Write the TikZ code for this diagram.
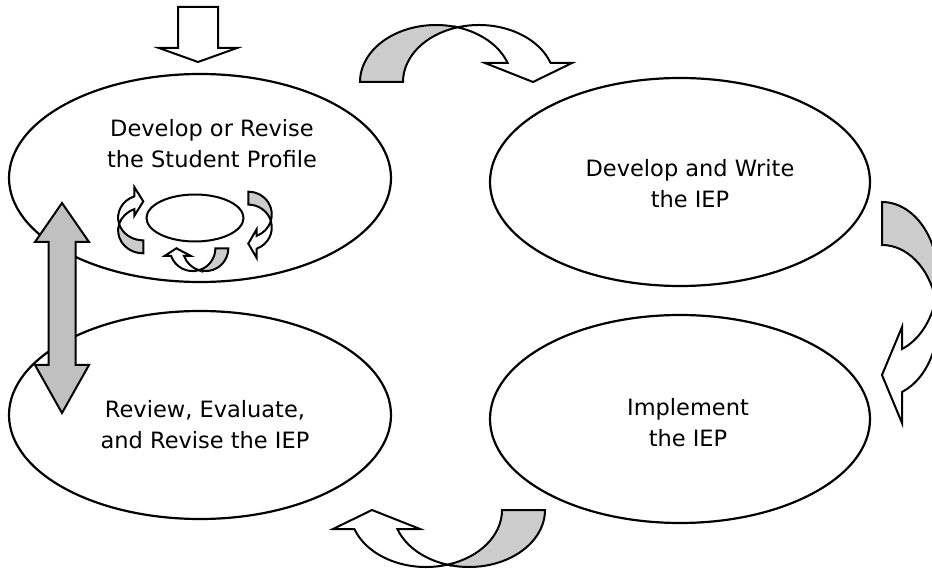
\documentclass[tikz,border=0pt]{standalone}
\usepackage{fontspec}
\setmainfont{DejaVu Sans}
\usetikzlibrary{shapes.geometric}
\definecolor{backgray}{RGB}{204,204,204}
\definecolor{silvergray}{RGB}{192,192,192}
\begin{document}
\begin{tikzpicture}[x=1pt, y=-1pt]
      \tikzset{phase/.style={draw, ellipse, line width=2.2pt, minimum width=382pt, minimum height=208pt, inner sep=0pt},
               txt/.style={align=center, font=\fontsize{22.5}{31}\selectfont},
               bandline/.style={draw, line width=2pt, line join=miter},
               backband/.style={bandline, fill=backgray},
               frontband/.style={bandline, fill=white},
               curveup/.pic={
                  \path[backband] (0,0) arc[start angle=0, end angle=106.43, x radius=76, y radius=57]
                        arc[start angle=73.57, end angle=0, x radius=76, y radius=57] -- cycle;
                  \path[frontband] (-97.5,54.67) arc[start angle=73.57, end angle=160.5, x radius=76, y radius=57]
                        -- (-212,19) -- (-173,0) -- (-125,19) -- (-147.64,19.03)
                        arc[start angle=160.5, end angle=106.43, x radius=76, y radius=57] -- cycle;},
               curveleft/.pic={
                  \path[backband] (0,0) arc[start angle=-90, end angle=16.43, x radius=56, y radius=76]
                        arc[start angle=-16.43, end angle=-90, x radius=56, y radius=76] -- cycle;
                  \path[frontband] (53.72,97.5) arc[start angle=-16.43, end angle=69.08, x radius=56, y radius=76]
                        -- (20,221) -- (0,173) -- (20,125) -- (20,147)
                        arc[start angle=69.08, end angle=16.43, x radius=56, y radius=76] -- cycle;}}
      \useasboundingbox (0,0) rectangle (932,569);
%% Ellipses
      \node[phase] (profile) at (200,178) {};
      \node[phase, minimum width=380pt] (write) at (680,182) {};
      \node[phase, minimum width=380pt] (implement) at (680,419) {};
      \node[phase] (review) at (200,415) {};
      \node[draw, ellipse, line width=2pt, minimum width=97pt, minimum height=47pt] (inner) at (195,218) {};
%% Texts
      \node[txt] (profiletext) at (212,144) {Develop or Revise\\the Student Profile};
      \node[txt] (writetext) at (690,184) {Develop and Write\\the IEP};
      \node[txt] (implementtext) at (688,423) {Implement\\the IEP};
      \node[txt] (reviewtext) at (205,425) {Review, Evaluate,\\and Revise the IEP};
%% Arrows
	%entry
      \draw[frontband] (178,7) -- (218,7) -- (218,48) -- (237,48) -- (198,62) -- (159,48) -- (178,48) -- cycle;
	%cycle
      \pic[rotate=180] at (360,82) {curveup};
      \pic at (882,202) {curveleft};
      \pic at (545,510) {curveup};
	%small ones
      \pic[xscale=-0.45, yscale=-0.3] at (143.3,253.3) {curveleft};
      \pic[xscale=0.42, yscale=0.3] at (248.3,191.7) {curveleft};
      \pic[xscale=0.3, yscale=0.4] at (228.3,248.3) {curveup};
	%double
      \draw[bandline, fill=silvergray] (62,203) -- (89,242) -- (75.5,242) -- (75.5,365) -- (89,365) -- (62,413)
            -- (35,365) -- (48.5,365) -- (48.5,242) -- (35,242) -- cycle;
\end{tikzpicture}
\end{document}
